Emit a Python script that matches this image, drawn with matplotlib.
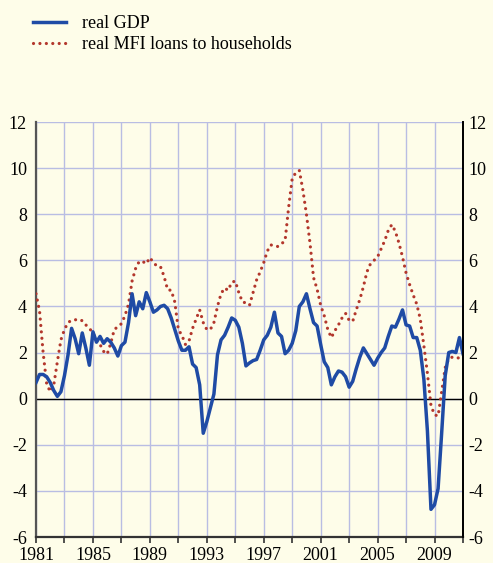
import numpy as np
import matplotlib
matplotlib.use("Agg")
import matplotlib.pyplot as plt

plt.rcParams["font.family"] = ["Liberation Serif", "DejaVu Serif"]
plt.rcParams["axes.unicode_minus"] = False

# quarterly observations, 1981Q1 .. 2011Q1 (annual % changes)
START_YEAR = 1981
gdp = [
    0.7, 1.05, 1.05, 0.95,    # 1981
    0.7, 0.35, 0.1, 0.3,      # 1982
    1.0, 1.9, 3.05, 2.6,      # 1983
    1.95, 2.85, 2.2, 1.45,    # 1984
    2.9, 2.45, 2.7, 2.4,      # 1985
    2.6, 2.45, 2.2, 1.85,     # 1986
    2.3, 2.45, 3.3, 4.55,     # 1987
    3.6, 4.2, 3.9, 4.6,       # 1988
    4.2, 3.75, 3.85, 4.0,     # 1989
    4.05, 3.9, 3.5, 3.0,      # 1990
    2.5, 2.1, 2.1, 2.25,      # 1991
    1.5, 1.35, 0.6, -1.5,     # 1992
    -1.0, -0.4, 0.2, 1.9,     # 1993
    2.55, 2.75, 3.1, 3.5,     # 1994
    3.4, 3.1, 2.4, 1.42,      # 1995
    1.55, 1.65, 1.7, 2.1,     # 1996
    2.55, 2.75, 3.1, 3.75,    # 1997
    2.85, 2.7, 1.95, 2.1,     # 1998
    2.4, 2.95, 4.0, 4.2,      # 1999
    4.55, 3.9, 3.3, 3.15,     # 2000
    2.35, 1.6, 1.35, 0.6,     # 2001
    0.95, 1.2, 1.15, 0.95,    # 2002
    0.5, 0.75, 1.3, 1.8,      # 2003
    2.2, 1.95, 1.7, 1.45,     # 2004
    1.75, 2.0, 2.2, 2.7,      # 2005
    3.15, 3.1, 3.45, 3.85,    # 2006
    3.2, 3.15, 2.65, 2.65,    # 2007
    2.1, 0.85, -1.4, -4.8,    # 2008
    -4.6, -3.9, -1.5, 1.0,    # 2009
    2.0, 2.05, 2.0, 2.65,     # 2010
    1.95,                     # 2011
]
loans = [
    4.55, 3.8, 2.0, 0.64,     # 1981
    0.3, 0.6, 1.6, 2.55,      # 1982
    3.0, 3.3, 3.4, 3.42,      # 1983
    3.44, 3.38, 3.2, 3.05,    # 1984
    2.85, 2.5, 2.35, 2.05,    # 1985
    1.93, 2.4, 3.0, 3.12,     # 1986
    3.25, 3.6, 4.1, 5.1,      # 1987
    5.65, 5.95, 5.95, 5.85,   # 1988
    6.12, 5.9, 5.75, 5.72,    # 1989
    5.3, 4.72, 4.7, 4.2,      # 1990
    3.0, 2.75, 2.35, 2.5,     # 1991
    3.05, 3.45, 3.85, 3.3,    # 1992
    3.0, 3.0, 3.3, 4.0,       # 1993
    4.55, 4.8, 4.7, 5.05,     # 1994
    5.1, 4.6, 4.2, 4.15,      # 1995
    4.05, 4.6, 5.15, 5.5,     # 1996
    5.9, 6.4, 6.67, 6.62,     # 1997
    6.6, 6.72, 6.85, 8.3,     # 1998
    9.55, 9.8, 9.9, 9.05,     # 1999
    8.0, 6.75, 5.25, 4.75,    # 2000
    4.05, 3.6, 3.0, 2.65,     # 2001
    2.95, 3.2, 3.5, 3.7,      # 2002
    3.4, 3.35, 3.85, 4.3,     # 2003
    4.85, 5.5, 5.85, 6.0,     # 2004
    6.15, 6.5, 6.85, 7.3,     # 2005
    7.55, 7.25, 6.75, 6.15,   # 2006
    5.45, 4.95, 4.5, 4.1,     # 2007
    3.45, 2.3, 1.1, -0.3,     # 2008
    -0.7, -0.75, 0.3, 1.35,   # 2009
    1.75, 1.8, 1.8, 1.75,     # 2010
    1.7,                      # 2011
]
labels = ["real GDP", "real MFI loans to households"]
year_ticks = list(range(1981, 2010, 4))
y_ticks = list(range(-6, 13, 2))

BG = "#fefde9"
GRID = "#b9bde3"
C_GDP = "#1f4ba5"
C_LOAN = "#b3372c"

t = START_YEAR + np.arange(len(gdp)) / 4.0

fig = plt.figure(figsize=(4.93, 5.63), dpi=100, facecolor=BG)
ax = fig.add_axes([36 / 493, 1 - 537 / 563, 427 / 493, 415 / 563])
ax.set_facecolor(BG)

l1, = ax.plot(t, gdp, color=C_GDP, lw=2.5, solid_joinstyle="round",
              zorder=4)
l2, = ax.plot(t, loans, color=C_LOAN, lw=2.3, ls=(0, (0.01, 2.0)),
              dash_capstyle="round", zorder=3)
ax.axhline(0, color="black", lw=1.0, zorder=2)

ax.set_xlim(1981, 2011)
ax.set_ylim(-6, 12)
ax.set_xticks(range(1981, 2012, 2))
ax.set_xticklabels([str(y) if y in year_ticks else "" for y in
                    range(1981, 2012, 2)])
ax.set_yticks(y_ticks)
ax.grid(color=GRID, lw=1.0)
ax.set_axisbelow(True)
ax.tick_params(axis="x", direction="out", length=4, width=1.2,
               color="#333333", labelsize=13, pad=3.5)
ax.tick_params(axis="y", length=0, labelsize=13, pad=6.5)
ax.spines["top"].set_visible(False)
ax.spines["left"].set_color("#555555")
ax.spines["left"].set_linewidth(1.6)
ax.spines["bottom"].set_color("#333333")
ax.spines["bottom"].set_linewidth(1.6)
ax.spines["right"].set_color("black")
ax.spines["right"].set_linewidth(1.3)

# right-hand copy of the value axis
axr = ax.twinx()
axr.set_ylim(ax.get_ylim())
axr.set_yticks(y_ticks)
axr.tick_params(axis="y", length=0, labelsize=13, pad=4)
for side in ("top", "left", "bottom"):
    axr.spines[side].set_visible(False)
axr.spines["right"].set_color("black")
axr.spines["right"].set_linewidth(1.3)

fig.legend([l1, l2], labels, loc="upper left",
           bbox_to_anchor=(33 / 493, 1 - 15 / 563), frameon=False,
           fontsize=13, handlelength=1.85, handletextpad=0.85,
           labelspacing=0.22, borderpad=0, borderaxespad=0)

fig.savefig("out.png", dpi=100, facecolor=BG)
